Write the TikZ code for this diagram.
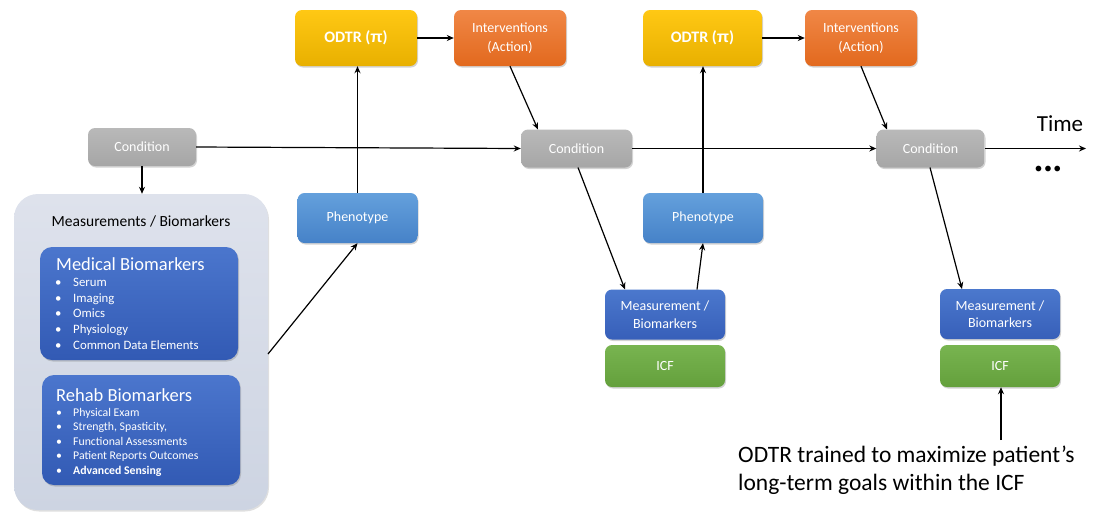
\documentclass[tikz,border=0pt]{standalone}
\usepackage{fontspec}
\setmainfont{Carlito}
\newfontfamily\pifont{Liberation Sans}
\usetikzlibrary{shadows,arrows.meta}
\begin{document}
\begin{tikzpicture}[x=1pt,y=-1pt,
  box/.style={rounded corners=7pt, align=center, text=white, inner sep=2pt,
    drop shadow={shadow xshift=1pt, shadow yshift=-1.5pt, opacity=0.35}},
  cond/.style={box, top color=gray!55, bottom color=gray!70, minimum width=108pt, minimum height=38pt, font=\fontsize{14}{16}\selectfont},
  odtr/.style={box, top color={rgb,255:red,255;green,200;blue,20}, bottom color={rgb,255:red,232;green,176;blue,0}, minimum width=122pt, minimum height=56pt, font=\bfseries\fontsize{16}{18}\selectfont},
  interv/.style={box, top color={rgb,255:red,240;green,135;blue,70}, bottom color={rgb,255:red,226;green,105;blue,30}, minimum width=112pt, minimum height=56pt, font=\fontsize{14}{18.5}\selectfont},
  pheno/.style={box, top color={rgb,255:red,100;green,160;blue,220}, bottom color={rgb,255:red,70;green,130;blue,200}, minimum width=120pt, minimum height=50pt, font=\fontsize{14}{16}\selectfont},
  meas/.style={box, top color={rgb,255:red,75;green,120;blue,205}, bottom color={rgb,255:red,55;green,95;blue,185}, minimum width=120pt, minimum height=50pt, font=\fontsize{14}{17.5}\selectfont},
  icf/.style={box, top color={rgb,255:red,120;green,180;blue,80}, bottom color={rgb,255:red,100;green,160;blue,60}, minimum width=120pt, minimum height=42pt, font=\fontsize{14}{16}\selectfont},
  bigbox/.style={rounded corners=24pt, top color={rgb,255:red,222;green,226;blue,236}, bottom color={rgb,255:red,205;green,212;blue,226}, minimum width=254pt, minimum height=316pt,
    drop shadow={shadow xshift=1pt, shadow yshift=-1.5pt, opacity=0.25}},
  bio/.style={rounded corners=12pt, top color={rgb,255:red,75;green,118;blue,205}, bottom color={rgb,255:red,50;green,90;blue,180}, minimum width=198pt,
    drop shadow={shadow xshift=1pt, shadow yshift=-1.5pt, opacity=0.35}},
  arr/.style={-{Stealth[length=7pt,width=6pt]}, line width=1.2pt, black},
]
\useasboundingbox (0,0) rectangle (1102,512);

% big measurement box
\node[bigbox] (big) at (141,352) {};
\node[font=\fontsize{15.5}{18}\selectfont] (bigt) at (141,221) {Measurements / Biomarkers};
\node[bio, minimum height=113pt] (med) at (139,303.5) {};
\node[bio, minimum height=110pt] (reh) at (141,430) {};
\node[anchor=west, text=white, font=\fontsize{18.5}{20}\selectfont, inner sep=0pt] (medt) at (56,264) {Medical Biomarkers};
\node[anchor=north west, text=white, font=\fontsize{12.8}{15.7}\selectfont, align=left, inner sep=0pt] (medl) at (55,278) {%
\makebox[18pt][l]{\textbullet}Serum\\
\makebox[18pt][l]{\textbullet}Imaging\\
\makebox[18pt][l]{\textbullet}Omics\\
\makebox[18pt][l]{\textbullet}Physiology\\
\makebox[18pt][l]{\textbullet}Common Data Elements};
\node[anchor=west, text=white, font=\fontsize{18.5}{20}\selectfont, inner sep=0pt] (reht) at (56,395) {Rehab Biomarkers};
\node[anchor=north west, text=white, font=\fontsize{11.8}{14.4}\selectfont, align=left, inner sep=0pt] (rehl) at (56,408) {%
\makebox[17pt][l]{\textbullet}Physical Exam\\
\makebox[17pt][l]{\textbullet}Strength, Spasticity,\\
\makebox[17pt][l]{\textbullet}Functional Assessments\\
\makebox[17pt][l]{\textbullet}Patient Reports Outcomes\\
\makebox[17pt][l]{\textbullet}\textbf{Advanced Sensing}};

% nodes
\node[cond] (c1) at (142,147) {Condition};
\node[cond, minimum width=111pt] (c2) at (576.5,148.5) {Condition};
\node[cond] (c3) at (930.5,148.5) {Condition};
\node[odtr] (o1) at (356,38) {ODTR ({\pifont π})};
\node[interv] (i1) at (510,38) {Interventions\\(Action)};
\node[odtr, minimum width=119pt] (o2) at (702.5,38) {ODTR ({\pifont π})};
\node[interv] (i2) at (861,38) {Interventions\\(Action)};
\node[pheno] (p1) at (357.5,218) {Phenotype};
\node[pheno] (p2) at (703,218) {Phenotype};
\node[meas] (m2) at (665,314.5) {Measurement /\\Biomarkers};
\node[icf] (f2) at (665,366) {ICF};
\node[meas] (m3) at (1000,314) {Measurement /\\Biomarkers};
\node[icf] (f3) at (1000,366) {ICF};

\node[font=\fontsize{23}{26}\selectfont, inner sep=0pt] (time) at (1060,124) {Time};
\node[font=\fontsize{16}{16}\selectfont, inner sep=0pt] (dots) at (1048,170) {\textbullet\hspace{1.5pt}\textbullet\hspace{1.5pt}\textbullet};
\node[anchor=north west, align=left, font=\fontsize{23.5}{28}\selectfont, inner sep=0pt] (note) at (738,446) {ODTR trained to maximize patient’s\\long-term goals within the ICF};
\coordinate (tend) at (1086,148.5);
\coordinate (nstart) at (1001,440);
\coordinate (bigr) at (268,354);

% arrows
\draw[arr] (c1.south) -- (big.north -| c1.south);
\draw[arr] (c1.east) -- (c2.west);
\draw[arr] (c2.east) -- (c3.west);
\draw[arr] (c3.east) -- (tend);
\draw[arr] (bigr) -- (p1.south);
\draw[arr] (p1.north) -- (o1.south -| p1.north);
\draw[arr] (o1.east) -- (i1.west);
\draw[arr] (i1.south) -- (538,129.5);
\draw[arr] (578,167.5) -- (625,289.5);
\draw[arr] (697,289.5) -- (p2.south);
\draw[arr] (p2.north) -- (o2.south -| p2.north);
\draw[arr] (o2.east) -- (i2.west);
\draw[arr] (i2.south) -- (887,129.5);
\draw[arr] (930,167.5) -- (962,289);
\draw[arr] (nstart) -- (f3.south -| nstart);
\end{tikzpicture}
\end{document}
